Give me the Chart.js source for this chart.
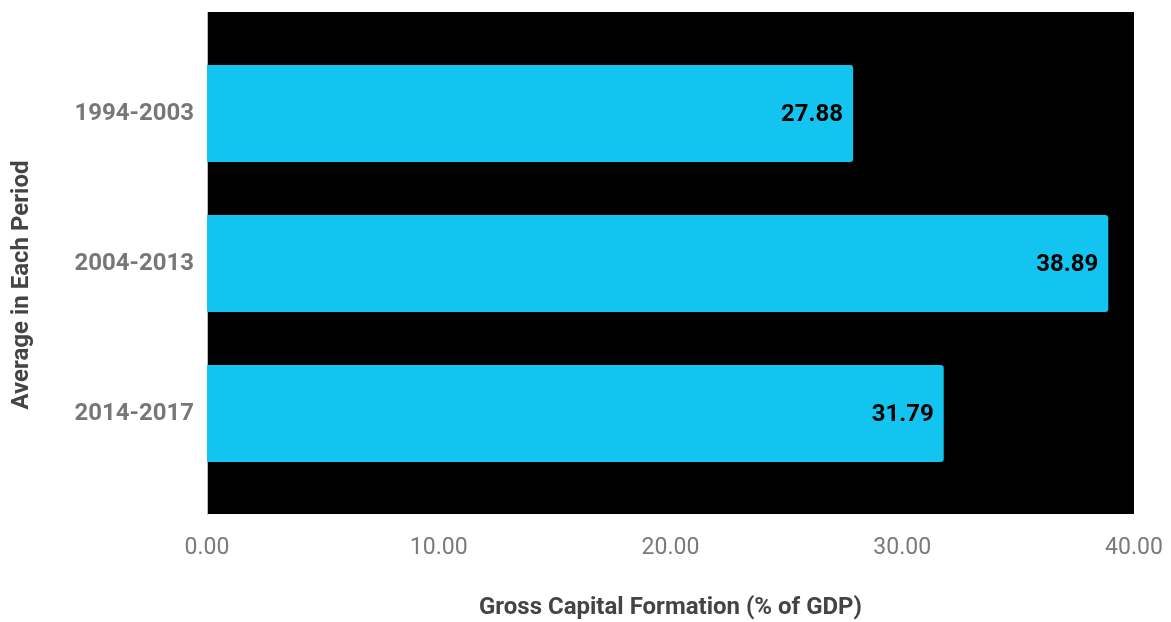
<!DOCTYPE html>
<html>
<head>
<meta charset="utf-8">
<script src="https://cdn.jsdelivr.net/npm/chart.js@4"></script>
<style>
  html, body { margin: 0; padding: 0; background: #fff; }
  #wrap { width: 1171px; height: 622px; }
</style>
</head>
<body>
<div id="wrap"><canvas id="gcf"></canvas></div>
<script>
const periods = ['1994-2003', '2004-2013', '2014-2017'];
const gcfValues = [27.88, 38.89, 31.79];
const xTicks = [0, 10, 20, 30, 40];
const yTitle = 'Average in Each Period';
const xTitle = 'Gross Capital Formation (% of GDP)';

// black plot background
const plotBg = {
    id: 'plotBg',
    beforeDraw(chart) {
        const a = chart.chartArea;
        const c = chart.ctx;
        c.save();
        c.fillStyle = '#000';
        c.fillRect(a.left, a.top, a.right - a.left, a.bottom - a.top);
        c.restore();
    }
};

// value labels inside bar ends
const barLabels = {
    id: 'barLabels',
    afterDatasetsDraw(chart) {
        const c = chart.ctx;
        const meta = chart.getDatasetMeta(0);
        c.save();
        c.font = 'bold 24px Roboto';
        c.fillStyle = '#000';
        c.textAlign = 'right';
        c.textBaseline = 'middle';
        meta.data.forEach(function(bar, i) {
            c.fillText(gcfValues[i].toFixed(2), bar.x - 10, bar.y + 1);
        });
        c.restore();
    }
};

// y title sits a bit below the plot centre in the original
const yTitleDraw = {
    id: 'yTitleDraw',
    afterDraw(chart) {
        const c = chart.ctx;
        c.save();
        c.translate(22, 285);
        c.rotate(-Math.PI / 2);
        c.font = 'bold 24px Roboto';
        c.fillStyle = '#444';
        c.textAlign = 'center';
        c.textBaseline = 'middle';
        c.fillText(yTitle, 0, 0);
        c.restore();
    }
};

// drop the automatic label overflow padding, layout.padding decides instead
function noOverflow(axis) {
    axis.paddingTop = 0;
    axis.paddingBottom = 0;
    axis.paddingLeft = 0;
    axis.paddingRight = 0;
}

const ctx = document.getElementById('gcf').getContext('2d');
const gcfChart = new Chart(ctx, {
    type: 'bar',
    data: {
        datasets: [{
            data: gcfValues.map((v, i) => ({ x: v, y: i })),
            backgroundColor: '#12C4EF',
            borderRadius: { topRight: 3, bottomRight: 3 },
            borderSkipped: false,
            barPercentage: 0.647,
            categoryPercentage: 1
        }]
    },
    options: {
        indexAxis: 'y',
        responsive: true,
        maintainAspectRatio: false,
        animation: false,
        layout: { padding: { top: 12, right: 37, bottom: 0, left: 4 } },
        plugins: {
            legend: { display: false },
            tooltip: { enabled: false }
        },
        scales: {
            x: {
                type: 'linear',
                min: 0,
                max: 40,
                afterBuildTicks(axis) {
                    axis.ticks = xTicks.map(v => ({ value: v }));
                },
                afterFit(axis) { axis.height = 108; noOverflow(axis); },
                grid: { display: false, drawTicks: false },
                border: { display: false },
                ticks: {
                    color: '#7a7a7a',
                    font: { family: 'Roboto', size: 23 },
                    padding: 20,
                    callback: v => v.toFixed(2)
                },
                title: {
                    display: true,
                    text: xTitle,
                    color: '#444',
                    font: { family: 'Roboto', size: 24, weight: 'bold' },
                    padding: { top: 0, bottom: 0 }
                }
            },
            y: {
                type: 'linear',
                reverse: true,
                offset: false,
                min: -0.677,
                max: 2.67,
                afterBuildTicks(axis) {
                    axis.ticks = periods.map((p, i) => ({ value: i }));
                },
                afterFit(axis) { axis.width = 203; noOverflow(axis); },
                grid: { display: false, drawTicks: false },
                border: { display: true, color: '#bbb', width: 1 },
                ticks: {
                    color: '#777',
                    font: { family: 'Roboto', size: 24, weight: 'bold' },
                    padding: 13,
                    callback: v => periods[v]
                },
                title: { display: false }
            }
        }
    },
    plugins: [plotBg, barLabels, yTitleDraw]
});
</script>
</body>
</html>
